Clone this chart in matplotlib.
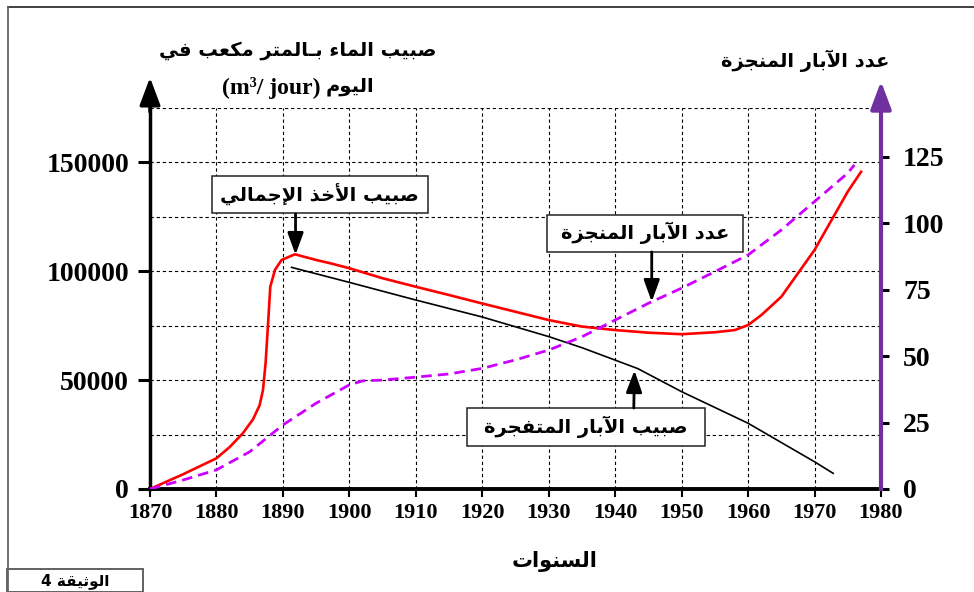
import matplotlib
matplotlib.use('Agg')
import matplotlib.pyplot as plt
from matplotlib.patches import Rectangle
from matplotlib.lines import Line2D

# ~~~ data ~~~
years_total = [1870, 1875, 1880, 1882, 1884, 1885.5, 1886.5, 1887.0, 1887.4, 1887.8, 1888.1,
               1888.8, 1889.8, 1891.8, 1895, 1897.5, 1900, 1905, 1910, 1915, 1920,
               1925, 1930, 1935, 1940, 1945, 1950, 1955, 1958, 1960, 1962, 1965,
               1970, 1975, 1977]
flow_total = [0, 6800, 14100, 19300, 25700, 32000, 38500, 45500, 58000, 77600, 92900,
              100600, 105200, 107800, 105200, 103400, 101400, 96800, 92900, 89100, 85200,
              81400, 77600, 74600, 73000, 71800, 71100, 72000, 73000, 75300, 79900, 88300,
              109800, 136600, 145700]

years_artesian = [1891.3, 1900, 1910, 1920, 1930, 1935, 1940, 1943.4, 1950, 1960, 1970, 1972.8]
flow_artesian = [101800, 94900, 86800, 79000, 70000, 64900, 59200, 55300, 44700, 30200, 12500, 7200]

years_wells = [1870, 1875, 1880, 1885, 1890, 1895, 1900, 1902, 1905, 1910, 1915, 1920,
               1925, 1930, 1935, 1940, 1945, 1950, 1955, 1960, 1965, 1970, 1975, 1976]
wells_count = [0, 3.4, 7.2, 14.0, 24.1, 32.3, 39.2, 40.7, 41.0, 42.1, 43.3, 45.4,
               48.6, 52.3, 57.3, 63.6, 69.9, 75.6, 81.8, 88.1, 97.5, 108.2, 118.9, 122]

x_ticks = list(range(1870, 1990, 10))
left_ticks = [0, 50000, 100000, 150000]
left_grid = [25000, 75000, 125000, 175000]
right_ticks = [0, 25, 50, 75, 100, 125]

title_left_1 = 'صبيب الماء بـالمتر مكعب في'
title_left_2 = 'اليوم'
title_left_unit = '(m³/ jour)'
title_right = 'عدد الآبار المنجزة'
label_total = 'صبيب الأخذ الإجمالي'
label_wells = 'عدد الآبار المنجزة'
label_artesian = 'صبيب الآبار المتفجرة'
x_title = 'السنوات'
doc_label = 'الوثيقة'
doc_num = '4'


# --- tiny Arabic shaper (matplotlib has no shaping / bidi) ---
_forms = {}
for code, start, n in [(0x621, 0xFE80, 1), (0x622, 0xFE81, 2), (0x623, 0xFE83, 2),
                       (0x624, 0xFE85, 2), (0x625, 0xFE87, 2), (0x626, 0xFE89, 4),
                       (0x627, 0xFE8D, 2), (0x628, 0xFE8F, 4), (0x629, 0xFE93, 2),
                       (0x62A, 0xFE95, 4), (0x62B, 0xFE99, 4), (0x62C, 0xFE9D, 4),
                       (0x62D, 0xFEA1, 4), (0x62E, 0xFEA5, 4), (0x62F, 0xFEA9, 2),
                       (0x630, 0xFEAB, 2), (0x631, 0xFEAD, 2), (0x632, 0xFEAF, 2),
                       (0x633, 0xFEB1, 4), (0x634, 0xFEB5, 4), (0x635, 0xFEB9, 4),
                       (0x636, 0xFEBD, 4), (0x637, 0xFEC1, 4), (0x638, 0xFEC5, 4),
                       (0x639, 0xFEC9, 4), (0x63A, 0xFECD, 4), (0x641, 0xFED1, 4),
                       (0x642, 0xFED5, 4), (0x643, 0xFED9, 4), (0x644, 0xFEDD, 4),
                       (0x645, 0xFEE1, 4), (0x646, 0xFEE5, 4), (0x647, 0xFEE9, 4),
                       (0x648, 0xFEED, 2), (0x649, 0xFEEF, 2), (0x64A, 0xFEF1, 4)]:
    _forms[chr(code)] = [chr(start + k) for k in range(n)]
_forms['\u0640'] = ['\u0640'] * 4
_lamalef = {'\u0622': '\uFEF5', '\u0623': '\uFEF7', '\u0625': '\uFEF9', '\u0627': '\uFEFB'}


def shape(s):
    items = []
    i = 0
    while i < len(s):
        if s[i] == '\u0644' and i + 1 < len(s) and s[i + 1] in _lamalef:
            lig = _lamalef[s[i + 1]]
            items.append((lig, [lig, chr(ord(lig) + 1)]))
            i += 2
        else:
            items.append((s[i], _forms.get(s[i], [])))
            i += 1
    out = []
    for k, (c, f) in enumerate(items):
        if len(f) < 2:
            out.append(f[0] if f else c)
            continue
        prev = k > 0 and len(items[k - 1][1]) == 4
        nxt = len(f) == 4 and k + 1 < len(items) and len(items[k + 1][1]) >= 2
        if prev and nxt:
            out.append(f[3])
        elif prev:
            out.append(f[1])
        elif nxt:
            out.append(f[2])
        else:
            out.append(f[0])
    return ''.join(out[::-1])


AR = dict(family='DejaVu Sans', fontweight='bold')
SERIF = dict(family='Liberation Serif', fontweight='bold')
W, H = 974, 592

fig = plt.figure(figsize=(W / 100, H / 100), dpi=100)


def ftext(px, py, s, **kw):
    return fig.text(px / W, 1 - py / H, s, **kw)


ax = fig.add_axes([150 / W, 103 / H, 731 / W, 381 / H])
ax2 = ax.twinx()

ax.plot(years_total, flow_total, color='#ff0000', lw=1.9, zorder=4)
ax.plot(years_artesian, flow_artesian, color='black', lw=1.2, zorder=4)
ax2.plot(years_wells, wells_count, color='#cc00ff', lw=2, dashes=(3.8, 2.2), zorder=4)

ax.set_xlim(1870, 1980)
ax.set_ylim(0, 175000)
ax2.set_ylim(0, 143.4)

ax.set_xticks(x_ticks)
ax.set_xticklabels([str(t) for t in x_ticks], **SERIF, fontsize=16)
ax.set_yticks(left_ticks)
ax.set_yticklabels([str(t) for t in left_ticks], **SERIF, fontsize=20)
ax.set_yticks(left_grid, minor=True)
ax2.set_yticks(right_ticks)
ax2.set_yticklabels([str(t) for t in right_ticks], **SERIF, fontsize=20)

ax.grid(True, which='both', color='black', lw=0.8, linestyle=(0, (3, 2.5)))
ax.tick_params(axis='y', which='major', length=9, width=2.2, pad=6)
ax.tick_params(axis='y', which='minor', length=0)
ax.tick_params(axis='x', length=6, width=1.5, pad=4)
ax2.tick_params(axis='y', length=6, width=2.2, pad=10, color='black')

for a in (ax, ax2):
    a.spines['top'].set_visible(False)
ax.spines['right'].set_visible(False)
ax2.spines['left'].set_visible(False)
ax2.spines['bottom'].set_visible(False)
ax.spines['left'].set_linewidth(2.5)
ax.spines['bottom'].set_linewidth(2.8)
ax2.spines['right'].set_linewidth(3)
ax2.spines['right'].set_color('#7030a0')

# axis arrows above the plot
ax.annotate('', xy=(0, 1.08), xytext=(0, 0.99), xycoords='axes fraction',
            arrowprops=dict(arrowstyle='-|>,head_length=1.2,head_width=0.45',
                            color='black', lw=2.5, mutation_scale=14, shrinkA=0, shrinkB=0))
ax.annotate('', xy=(1, 1.07), xytext=(1, 0.99), xycoords='axes fraction',
            arrowprops=dict(arrowstyle='-|>,head_length=1.2,head_width=0.45',
                            color='#7030a0', lw=3, mutation_scale=14, shrinkA=0, shrinkB=0))

# labelled boxes with arrows
boxes = [(1879.3, 126700, 32.5, 17000, label_total, (1891.9, 126300), (1891.9, 107600)),
         (1929.8, 109000, 29.5, 16900, label_wells, (1945.5, 108900), (1945.5, 86000)),
         (1917.7, 19800, 35.8, 17300, label_artesian, (1942.8, 37200), (1942.9, 54500))]
for x0, y0, w, h, txt, start, tip in boxes:
    ax.add_patch(Rectangle((x0, y0), w, h, facecolor='white', edgecolor='#222222',
                           lw=1.1, zorder=6, clip_on=False))
    ax.text(x0 + w / 2, y0 + h / 2, shape(txt), ha='center', va='center',
            fontsize=14, zorder=7, **AR)
    ax.annotate('', xy=tip, xytext=start,
                arrowprops=dict(arrowstyle='-|>,head_length=1.1,head_width=0.4',
                                color='black', lw=2, mutation_scale=12,
                                shrinkA=0, shrinkB=0), zorder=7)

# titles
ftext(298, 50, shape(title_left_1), ha='center', va='center', fontsize=14, **AR)
ftext(320, 88, title_left_unit, ha='right', va='center', fontsize=17, **SERIF)
ftext(326, 87, shape(title_left_2), ha='left', va='center', fontsize=14, **AR)
ftext(805, 61, shape(title_right), ha='center', va='center', fontsize=14, **AR)
ftext(555, 562, shape(x_title), ha='center', va='center', fontsize=15, **AR)

# page frame and document tag
fig.add_artist(Line2D([8 / W, 1], [1 - 7 / H] * 2, color='#333333', lw=1.3))
fig.add_artist(Line2D([8 / W] * 2, [1 - 7 / H, 0], color='#666666', lw=1.3))
fig.add_artist(Rectangle((7 / W, 0), 136 / W, 23 / H, transform=fig.transFigure,
                         facecolor='white', edgecolor='#555555', lw=1.3))
ftext(75, 581, doc_num + ' ' + shape(doc_label), ha='center', va='center', fontsize=11, **AR)

fig.savefig('out.png', dpi=100)
